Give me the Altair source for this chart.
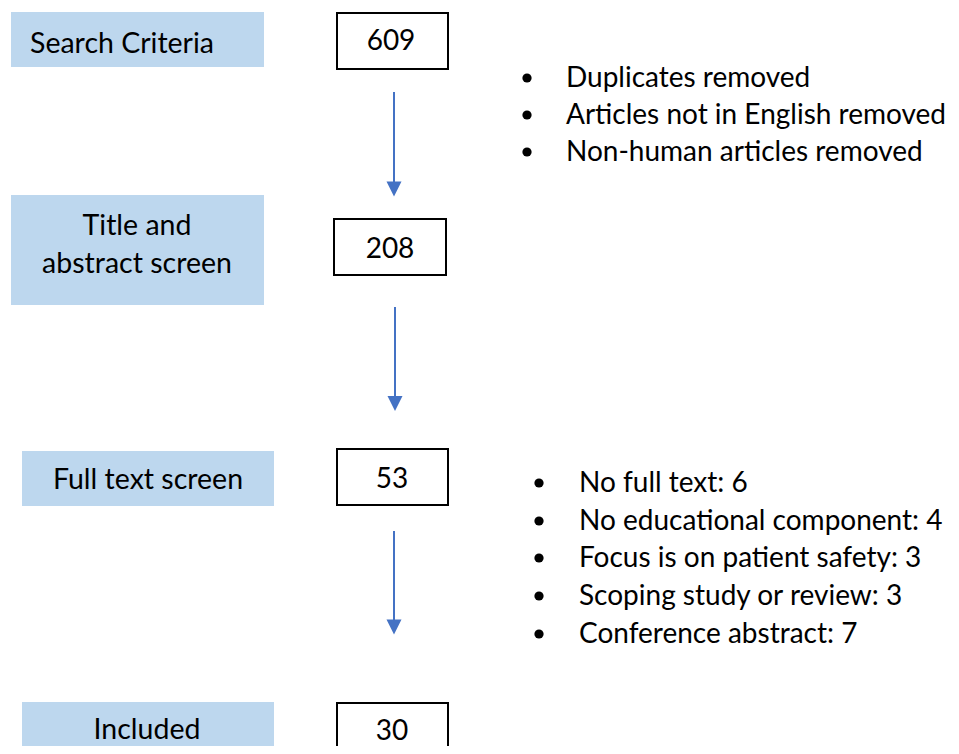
import altair as alt
import pandas as pd

# ---- content ----
stage_labels = ["Search Criteria", "Title and\nabstract screen", "Full text screen", "Included"]
stage_counts = ["609", "208", "53", "30"]
removed_first = ["Duplicates removed", "Articles not in English removed", "Non-human articles removed"]
removed_full_text = ["No full text: 6", "No educational component: 4", "Focus is on patient safety: 3",
                     "Scoping study or review: 3", "Conference abstract: 7"]

# ---- layout (reference pixel coordinates) ----
stage_box_x = [11, 11, 22, 22]
stage_box_x2 = [264, 264, 274, 274]
stage_box_y = [12, 195, 451, 702]
stage_box_y2 = [67, 305, 506, 770]
stage_text_x = [122, 137, 148, 147]
stage_text_y = [52.5, 235, 489, 739]

count_box_x = [337, 334, 337, 337]
count_box_x2 = [448, 446, 448, 448]
count_box_y = [13, 219, 449, 703]
count_box_y2 = [69, 275, 505, 770]
count_text_x = [391, 390, 392, 392]
count_text_y = [50, 258, 488, 740]

arrow_x = [394, 395, 394]
arrow_y = [92, 307, 531]
arrow_y2 = [185, 400, 622]
arrow_head_y = [189, 403.5, 627]

bullet1_x, text1_x = 527, 566
bullet1_dot_y = [78, 115, 152]
bullet1_text_y = [86.5, 124, 161]
bullet2_x, text2_x = 539, 579
bullet2_dot_y = [483, 521, 558, 596, 634]
bullet2_text_y = [491.5, 529.5, 567, 605, 643]

BLUE_FILL = "#BDD7EE"
ARROW = "#4472C4"
FONT = "Lato"
LABEL_SIZE = 28.5
BULLET_SIZE = 28
COUNT_SIZE = 28

xs = alt.Scale(domain=[8, 951], nice=False, zero=False)
ys = alt.Scale(domain=[8, 746], nice=False, zero=False, reverse=True)

def X(f):
    return alt.X(f + ":Q", scale=xs, axis=None)

def Y(f):
    return alt.Y(f + ":Q", scale=ys, axis=None)

stage_box_df = pd.DataFrame({"x": stage_box_x, "x2": stage_box_x2, "y": stage_box_y, "y2": stage_box_y2})
stage_text_df = pd.DataFrame({"x": stage_text_x, "y": stage_text_y, "t": stage_labels})
count_box_df = pd.DataFrame({"x": count_box_x, "x2": count_box_x2, "y": count_box_y, "y2": count_box_y2})
count_text_df = pd.DataFrame({"x": count_text_x, "y": count_text_y, "t": stage_counts})
arrow_df = pd.DataFrame({"x": arrow_x, "y": arrow_y, "y2": arrow_y2, "hy": arrow_head_y})
dots_df = pd.DataFrame({
    "x": [bullet1_x] * len(bullet1_dot_y) + [bullet2_x] * len(bullet2_dot_y),
    "y": bullet1_dot_y + bullet2_dot_y,
})
btext_df = pd.DataFrame({
    "x": [text1_x] * len(removed_first) + [text2_x] * len(removed_full_text),
    "y": bullet1_text_y + bullet2_text_y,
    "t": removed_first + removed_full_text,
})

stage_boxes = alt.Chart(stage_box_df).mark_rect(fill=BLUE_FILL, clip=True).encode(
    x=X("x"), x2="x2", y=Y("y"), y2="y2")
stage_texts = alt.Chart(stage_text_df).mark_text(
    font=FONT, fontSize=LABEL_SIZE, align="center", baseline="alphabetic", lineBreak="\n",
    lineHeight=38, color="black").encode(x=X("x"), y=Y("y"), text="t:N")
count_boxes = alt.Chart(count_box_df).mark_rect(
    fill="white", stroke="black", strokeWidth=2, clip=True).encode(
    x=X("x"), x2="x2", y=Y("y"), y2="y2")
count_texts = alt.Chart(count_text_df).mark_text(
    font=FONT, fontSize=COUNT_SIZE, align="center", baseline="alphabetic", color="black").encode(
    x=X("x"), y=Y("y"), text="t:N")
arrow_lines = alt.Chart(arrow_df).mark_rule(color=ARROW, strokeWidth=2).encode(
    x=X("x"), y=Y("y"), y2="y2")
arrow_heads = alt.Chart(arrow_df).mark_point(
    shape="M-1,-1L1,-1L0,1Z", filled=True, color=ARROW, opacity=1, size=225).encode(
    x=X("x"), y=Y("hy"))
dots = alt.Chart(dots_df).mark_point(
    shape="circle", filled=True, color="black", opacity=1, size=85).encode(x=X("x"), y=Y("y"))
btexts = alt.Chart(btext_df).mark_text(
    font=FONT, fontSize=BULLET_SIZE, align="left", baseline="alphabetic", color="black").encode(
    x=X("x"), y=Y("y"), text="t:N")

chart = alt.layer(
    stage_boxes, stage_texts, count_boxes, count_texts, arrow_lines, arrow_heads, dots, btexts
).properties(width=943, height=738, padding=0, autosize=alt.AutoSizeParams(type="none")
).configure(background="white", view=alt.ViewConfig(stroke=None))

chart.save("out.html", embed_options={"renderer": "svg", "actions": False})
